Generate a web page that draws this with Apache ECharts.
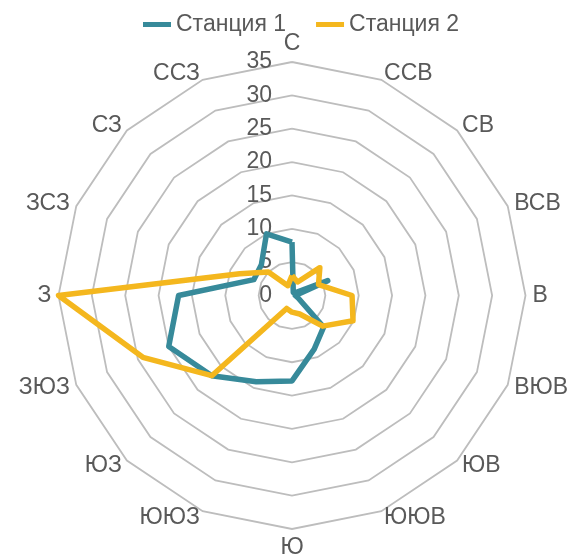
<!DOCTYPE html>
<html>
<head>
<meta charset="utf-8">
<script src="https://cdn.jsdelivr.net/npm/echarts@6/dist/echarts.min.js"></script>
<style>
  html, body { margin: 0; padding: 0; background: #fff; }
  #chart { width: 571px; height: 558px; }
</style>
</head>
<body>
<div id="chart"></div>
<script>
// compass directions, clockwise from north
const directions = ['С', 'ССВ', 'СВ', 'ВСВ', 'В', 'ВЮВ', 'ЮВ', 'ЮЮВ', 'Ю', 'ЮЮЗ', 'ЮЗ', 'ЗЮЗ', 'З', 'ЗСЗ', 'СЗ', 'ССЗ'];
const station1 = [8, 0.5, 0.5, 5.8, 0.5, 1, 6.7, 8.7, 12.8, 14, 17, 20, 17, 6.2, 6.5, 10];
const station2 = [3, 2.2, 5.9, 4.3, 9, 9.9, 6.5, 3, 2.5, 2.1, 17, 24.2, 35, 8.5, 5, 1.6];
const seriesNames = ['Станция 1', 'Станция 2'];
const seriesColors = ['#378a9a', '#f4b71e'];
const axisMin = 0;
const axisMax = 35;
const tickStep = 5;

const center = [292, 295.5];
const radius = 233.5;
const textColor = '#595959';
const font = 'Liberation Sans, Arial, sans-serif';
const fontSize = 23;

// radar puts its axes counter-clockwise, the wind rose goes clockwise
const order = directions.map((d, i) => (directions.length - i) % directions.length);
const indicator = order.map(k => ({ name: directions[k], min: axisMin, max: axisMax }));

const chart = echarts.init(document.getElementById('chart'));
chart.setOption({
  animation: false,
  legend: {
    top: 8,
    left: 138,
    icon: 'rect',
    itemWidth: 28,
    itemHeight: 5,
    itemGap: 30,
    data: seriesNames,
    textStyle: { color: textColor, fontSize: fontSize, fontFamily: font }
  },
  radar: {
    center: center,
    radius: radius,
    startAngle: 90,
    shape: 'polygon',
    splitNumber: (axisMax - axisMin) / tickStep,
    indicator: indicator,
    nameGap: 7,
    axisName: { color: textColor, fontSize: fontSize, fontFamily: font },
    axisLine: { show: false },
    axisTick: { show: false },
    axisLabel: { show: false },
    splitArea: { show: false },
    splitLine: { lineStyle: { color: '#bdbdbd', width: 1.8 } }
  },
  // polar overlay only to print the tick values along the north spoke
  polar: { center: center, radius: radius },
  angleAxis: { show: false, startAngle: 90, min: 0, max: 360 },
  radiusAxis: {
    min: axisMin,
    max: axisMax,
    interval: tickStep,
    axisLine: { show: false },
    axisTick: { show: false },
    splitLine: { show: false },
    axisLabel: { color: textColor, fontSize: fontSize, fontFamily: font, margin: 20 }
  },
  series: [{
    type: 'radar',
    symbol: 'none',
    data: [station1, station2].map((vals, s) => ({
      name: seriesNames[s],
      value: order.map(k => vals[k]),
      lineStyle: { color: seriesColors[s], width: 5.5 },
      itemStyle: { color: seriesColors[s] }
    }))
  }]
});
</script>
</body>
</html>
